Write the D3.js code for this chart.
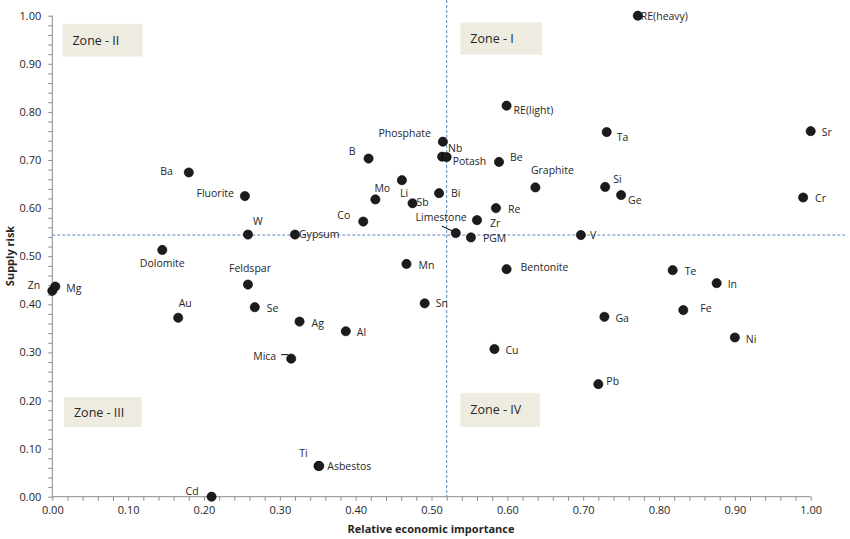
<!DOCTYPE html>
<html><head><meta charset="utf-8">
<script src="https://cdn.jsdelivr.net/npm/d3@7"></script>
<style>
html,body{margin:0;padding:0;background:#fff;}
svg{display:block;font-family:"Open Sans",sans-serif;}
</style></head>
<body>
<script>
// ---- data ----
const names = ["RE(heavy)","RE(light)","Phosphate","Nb","Potash","B","Be","Graphite","Mo","Li","Sb","Bi","Co","Gypsum","Limestone","PGM","Zr","Re","V","Ta","Si","Ge","Sr","Cr","Ba","Fluorite","W","Dolomite","Zn","Mg","Au","Feldspar","Se","Mica","Cd","Ag","Al","Mn","Sn","Bentonite","Cu","Ti","Asbestos","Te","In","Fe","Ga","Ni","Pb"];
const economicImportance = [0.772,0.599,0.515,0.514,0.520,0.417,0.589,0.637,0.426,0.461,0.475,0.510,0.410,0.320,0.532,0.552,0.560,0.585,0.697,0.731,0.729,0.750,1.000,0.990,0.180,0.254,0.258,0.145,0.000,0.004,0.166,0.258,0.267,0.315,0.210,0.326,0.387,0.467,0.491,0.599,0.583,0.351,0.352,0.818,0.876,0.832,0.728,0.900,0.720];
const supplyRisk = [1.000,0.813,0.738,0.707,0.706,0.703,0.696,0.643,0.618,0.658,0.610,0.631,0.572,0.545,0.548,0.539,0.575,0.600,0.544,0.758,0.644,0.627,0.760,0.622,0.674,0.625,0.545,0.513,0.428,0.437,0.372,0.441,0.394,0.287,0.000,0.364,0.344,0.484,0.402,0.473,0.307,0.064,0.064,0.471,0.444,0.388,0.374,0.331,0.234];
const xTicks = [0,0.1,0.2,0.3,0.4,0.5,0.6,0.7,0.8,0.9,1.0];
const yTicks = [0,0.1,0.2,0.3,0.4,0.5,0.6,0.7,0.8,0.9,1.0];
const thresholdX = 0.520;
const thresholdY = 0.544;
const zoneNames = ["Zone - I","Zone - II","Zone - III","Zone - IV"];
const zoneX0 = [0.538,0.0134,0.0154,0.538];
const zoneX1 = [0.646,0.119,0.118,0.643];
const zoneY0 = [0.986,0.983,0.207,0.216];
const zoneY1 = [0.919,0.915,0.145,0.145];

// ---- label layout (pixel offsets from the marker) ----
const labelLayout = {
 "RE(heavy)":[3,0,"start"],"RE(light)":[7,4,"start"],"Phosphate":[-12,-9,"end"],"Nb":[6,-9,"start"],
 "Potash":[6,4,"start"],"B":[-13,-8,"end"],"Be":[11,-5,"start"],"Graphite":[17,-17,"middle"],
 "Mo":[-1,-11,"start"],"Li":[-2,13,"start"],"Sb":[4,-1,"start"],"Bi":[12,0,"start"],
 "Co":[-13,-7,"end"],"Gypsum":[4,-1,"start"],"Limestone":[11,-16,"end"],"PGM":[12,1,"start"],
 "Zr":[13,3,"start"],"Re":[12,1,"start"],"V":[9,0,"start"],"Ta":[10,5,"start"],
 "Si":[8,-8,"start"],"Ge":[7,5,"start"],"Sr":[11,1,"start"],"Cr":[12,0,"start"],
 "Ba":[-16,-2,"end"],"Fluorite":[-11,-3,"end"],"W":[5,-14,"start"],"Dolomite":[0,13,"middle"],
 "Zn":[-12,-6,"end"],"Mg":[11,1,"start"],"Au":[7,-15,"middle"],"Feldspar":[2,-17,"middle"],
 "Se":[12,1,"start"],"Mica":[-15,-3,"end"],"Cd":[-13,-6,"end"],"Ag":[12,1,"start"],
 "Al":[11,1,"start"],"Mn":[12,1,"start"],"Sn":[11,0,"start"],"Bentonite":[14,-2,"start"],
 "Cu":[11,1,"start"],"Ti":[-15,-13,"middle"],"Asbestos":[8,0,"start"],"Te":[12,1,"start"],
 "In":[11,1,"start"],"Fe":[17,-2,"start"],"Ga":[11,1,"start"],"Ni":[11,2,"start"],"Pb":[8,-3,"start"]
};

const W = 850, H = 539;
const svg = d3.select("body").append("svg").attr("width",W).attr("height",H);

const x = d3.scaleLinear().domain([0,1]).range([52.3,810.7]);
const y = d3.scaleLinear().domain([0,1]).range([496.7,15.7]);
const axisColor = "#8c8c8c";
const textColor = "#262626";

// zones
const zones = zoneNames.map((n,i)=>({n,x0:zoneX0[i],x1:zoneX1[i],y0:zoneY0[i],y1:zoneY1[i]}));
const zg = svg.append("g");
zg.selectAll("rect").data(zones).join("rect")
  .attr("x",d=>x(d.x0)).attr("y",d=>y(d.y0))
  .attr("width",d=>x(d.x1)-x(d.x0)).attr("height",d=>y(d.y1)-y(d.y0))
  .attr("fill","#eeece1");
zg.selectAll("text").data(zones).join("text")
  .attr("x",d=>x(d.x0)+10).attr("y",d=>(y(d.y0)+y(d.y1))/2+4.5)
  .attr("font-size",12.5).attr("fill",textColor).text(d=>d.n);

// axes
const minorX = d3.range(0,1.0001,0.02);
const minorY = d3.range(0,1.0001,0.02);
const xAxis = svg.append("g").attr("transform",`translate(0,${y(0)})`)
  .call(d3.axisBottom(x).tickValues(minorX).tickSize(4).tickFormat(""));
xAxis.select(".domain").attr("stroke",axisColor).attr("d",`M${x(0)},0H${x(1)}`);
xAxis.selectAll(".tick line").attr("stroke",axisColor);
const xLab = svg.append("g").attr("transform",`translate(0,${y(0)})`)
  .call(d3.axisBottom(x).tickValues(xTicks).tickSize(0).tickPadding(10).tickFormat(d3.format(".2f")));
xLab.select(".domain").remove();
xLab.selectAll("text").attr("font-size",11).attr("fill",textColor).attr("font-family","Open Sans");

const yAxis = svg.append("g").attr("transform",`translate(${x(0)},0)`)
  .call(d3.axisLeft(y).tickValues(minorY).tickSize(4).tickFormat(""));
yAxis.select(".domain").attr("stroke",axisColor).attr("d",`M0,${y(0)}V${y(1)}`);
yAxis.selectAll(".tick line").attr("stroke",axisColor);
const yLab = svg.append("g").attr("transform",`translate(${x(0)},0)`)
  .call(d3.axisLeft(y).tickValues(yTicks).tickSize(0).tickPadding(11).tickFormat(d3.format(".2f")));
yLab.select(".domain").remove();
yLab.selectAll("text").attr("font-size",11).attr("fill",textColor).attr("font-family","Open Sans");

// threshold lines
svg.append("line").attr("x1",x(0)).attr("x2",845).attr("y1",y(thresholdY)).attr("y2",y(thresholdY))
  .attr("stroke","#5a86bd").attr("stroke-width",1).attr("stroke-dasharray","3,2");
svg.append("line").attr("x1",x(thresholdX)).attr("x2",x(thresholdX)).attr("y1",0).attr("y2",y(0))
  .attr("stroke","#5a86bd").attr("stroke-width",1).attr("stroke-dasharray","3,2");

// points
const pts = names.map((n,i)=>({n,vx:economicImportance[i],vy:supplyRisk[i]}));
svg.append("g").selectAll("circle").data(pts).join("circle")
  .attr("cx",d=>x(d.vx)).attr("cy",d=>y(d.vy)).attr("r",4.6)
  .attr("fill","#1c1c1c").attr("stroke","#000").attr("stroke-width",0.6);

// leader lines
const leaders = [["Limestone",-14,-7,-3,-2],["Mica",-10,-4,-3,-4]];
svg.append("g").selectAll("path").data(leaders).join("path")
  .attr("d",d=>{const p=pts.find(q=>q.n===d[0]);const cx=x(p.vx),cy=y(p.vy);
     return `M${cx+d[1]},${cy+d[2]}L${cx+d[3]},${cy+d[4]}`;})
  .attr("stroke","#000").attr("stroke-width",1).attr("fill","none");

// labels
svg.append("g").selectAll("text").data(pts).join("text")
  .attr("x",d=>x(d.vx)+labelLayout[d.n][0])
  .attr("y",d=>y(d.vy)+labelLayout[d.n][1]+4)
  .attr("text-anchor",d=>labelLayout[d.n][2])
  .attr("font-size",10.5).attr("fill",textColor).text(d=>d.n);

// axis titles
svg.append("text").attr("x",431).attr("y",533).attr("text-anchor","middle")
  .attr("font-size",11).attr("font-weight","bold").attr("fill",textColor).text("Relative economic importance");
svg.append("text").attr("transform","translate(14,256) rotate(-90)").attr("text-anchor","middle")
  .attr("font-size",11).attr("font-weight","bold").attr("fill",textColor).text("Supply risk");
</script>
</body></html>
